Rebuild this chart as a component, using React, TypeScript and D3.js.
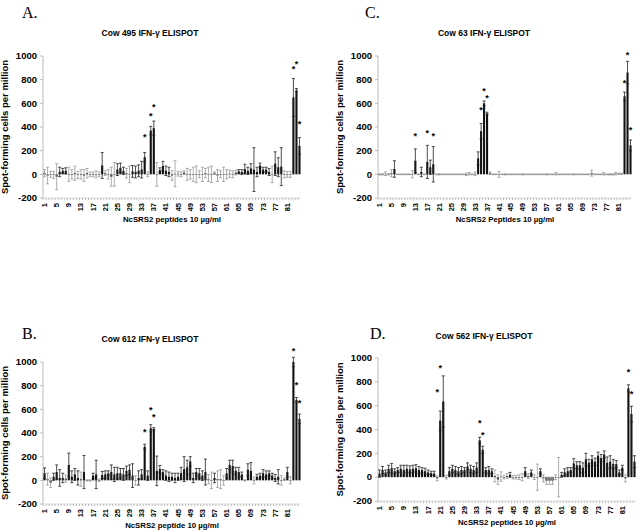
import React from "react";
import * as d3 from "d3";

// peptide index 1..85 (82 peptides + controls at the end)
const peptides = d3.range(1, 86);
const xTickLabels = ["1", "5", "9", "13", "17", "21", "25", "29", "33", "37", "41", "45", "49", "53", "57", "61", "65", "69", "73", "77", "81"];
const yTicks = [-200, 0, 200, 400, 600, 800, 1000];

// Cow 495
const cow495Mean = [
  10, -10, 0, -5, -20, 20, 30, 30, 0, 0,
  10, -5, 0, -10, 10, 0, 0, 0, 0, 75,
  10, 0, -20, 0, 40, 55, 30, 10, 0, 25,
  20, 30, 40, 145, 0, 370, 390, 0, 35, 70,
  30, 20, -10, 5, 5, 0, 15, 0, 0, 0,
  0, 0, 0, 10, 0, 0, 10, -10, 0, 0,
  0, 5, 0, 15, 25, 20, 45, 30, 50, 40,
  20, 75, 40, 40, 20, 0, 90, 60, 65, 0,
  0, 0, 650, 710, 240,
];
const cow495Err = [
  30, 70, 25, 30, 110, 40, 20, 25, 60, 40,
  60, 30, 40, 50, 40, 20, 20, 30, 20, 110,
  20, 40, 80, 100, 50, 40, 30, 40, 70, 50,
  50, 50, 70, 40, 20, 35, 60, 100, 20, 40,
  40, 40, 40, 110, 20, 20, 15, 50, 40, 60,
  70, 30, 60, 40, 60, 70, 10, 50, 30, 60,
  40, 30, 30, 20, 15, 20, 40, 30, 40, 185,
  40, 20, 20, 20, 30, 70, 100, 80, 160, 30,
  25, 25, 160, 15, 70,
];
const cow495Stars = [[34, 320], [36, 500], [37, 575], [83, 895], [84, 940], [85, 435]];

// Cow 612
const cow612Mean = [
  60, 10, -20, 30, 70, 20, 20, 15, 130, 30,
  50, 20, 10, 70, 0, 0, 40, 50, 0, 45,
  50, 60, 70, 50, 60, 60, 50, 80, 90, 40,
  0, 20, 50, 285, 40, 440, 435, 80, 95, 70,
  40, 30, 30, 20, 30, 60, 95, 110, 160, 20,
  70, 60, 40, 70, 10, 0, 20, 10, 10, 0,
  60, 130, 120, 80, 70, 50, 0, 90, 80, 0,
  30, 40, 60, 50, 60, 40, 20, 30, 0, 10,
  70, 0, 1000, 680, 520,
];
const cow612Err = [
  45, 50, 40, 30, 60, 70, 40, 30, 100, 50,
  50, 60, 60, 140, 5, 5, 20, 120, 10, 30,
  30, 20, 60, 60, 50, 40, 50, 40, 40, 100,
  40, 60, 40, 20, 40, 30, 10, 125, 30, 20,
  40, 40, 30, 40, 30, 50, 105, 60, 40, 40,
  30, 40, 40, 110, 40, 70, 40, 70, 80, 40,
  40, 40, 50, 30, 40, 20, 5, 50, 70, 30,
  20, 20, 30, 30, 20, 20, 30, 60, 40, 10,
  40, 30, 40, 20, 40,
];
const cow612Stars = [[34, 415], [36, 605], [37, 545], [83, 1100], [84, 815], [85, 660]];

// Cow 63
const cow63Mean = [
  0, 0, 5, 0, 10, 45, 0, 0, 0, 0,
  0, 0, 115, 0, 20, 0, 105, 60, 85, 0,
  0, 0, 0, 0, 0, 0, 0, 0, 0, 0,
  5, 0, 5, 135, 365, 600, 515, 10, 0, 0,
  0, 0, 0, 0, 0, 0, 0, 0, 0, 0,
  0, 0, 0, 0, 0, 0, 0, 0, 0, 5,
  0, 0, 0, 0, 0, 0, 0, 0, 0, 0,
  0, 10, 0, 0, 0, 5, 0, 0, 0, 5,
  5, 5, 660, 860, 245,
];
const cow63Err = [
  5, 5, 15, 5, 30, 70, 3, 3, 3, 3,
  3, 30, 100, 3, 40, 3, 140, 60, 150, 3,
  5, 3, 3, 3, 3, 3, 3, 3, 3, 10,
  10, 3, 15, 55, 65, 20, 10, 10, 3, 3,
  25, 3, 5, 3, 3, 3, 3, 3, 5, 3,
  3, 3, 3, 3, 3, 3, 5, 3, 3, 10,
  3, 3, 3, 3, 3, 5, 3, 3, 3, 3,
  3, 25, 3, 3, 3, 10, 3, 5, 5, 10,
  5, 5, 35, 95, 45,
];
const cow63Stars = [[13, 330], [17, 360], [19, 330], [35, 555], [36, 715], [37, 650], [83, 780], [84, 1015], [85, 380]];

// Cow 562
const cow562Mean = [
  30, 60, 40, 70, 75, 50, 60, 70, 60, 70,
  65, 70, 75, 60, 60, 50, 40, 35, 30, -10,
  475, 635, 0, 50, 70, 60, 50, 60, 60, 90,
  70, 60, 80, 310, 230, 60, 60, 50, 10, -20,
  5, 0, 10, 20, 0, 0, 0, 0, 50, 10,
  40, 0, 0, 50, -10, -30, -30, -30, 0, 0,
  20, 40, 50, 60, 115, 100, 100, 80, 150, 120,
  150, 130, 180, 160, 190, 120, 130, 110, 110, 40,
  80, -10, 745, 530, 130,
];
const cow562Err = [
  30, 30, 20, 30, 40, 20, 20, 30, 40, 30,
  30, 30, 30, 30, 20, 25, 20, 15, 20, 20,
  80, 215, 15, 30, 30, 30, 30, 30, 20, 30,
  30, 30, 40, 25, 30, 20, 30, 20, 50, 40,
  40, 15, 20, 20, 15, 15, 20, 30, 30, 20,
  20, 20, 110, 20, 30, 30, 30, 30, 20, 165,
  20, 30, 30, 20, 40, 30, 30, 40, 50, 30,
  30, 30, 30, 30, 30, 50, 50, 40, 30, 20,
  20, 30, 30, 65, 50,
];
const cow562Stars = [[20, 720], [21, 925], [34, 465], [35, 360], [83, 895], [84, 705]];

const panels = [
  { letter: "A.", title: "Cow 495 IFN-\u03b3 ELISPOT", xLabel: "NcSRS2 peptides 10 \u00b5g/ml",
    means: cow495Mean, errors: cow495Err, stars: cow495Stars,
    left: 43, top: 56, width: 258, height: 142, letterX: 22, letterY: 18, titleX: 150, titleY: 36 },
  { letter: "C.", title: "Cow 63 IFN-\u03b3 ELISPOT", xLabel: "NcSRS2 Peptides 10 \u00b5g/ml",
    means: cow63Mean, errors: cow63Err, stars: cow63Stars,
    left: 378, top: 56, width: 254, height: 142, letterX: 365, letterY: 18, titleX: 484, titleY: 36 },
  { letter: "B.", title: "Cow 612 IFN-\u03b3 ELISPOT", xLabel: "NcSRS2 peptide 10 \u00b5g/ml",
    means: cow612Mean, errors: cow612Err, stars: cow612Stars,
    left: 43, top: 362, width: 258, height: 142, letterX: 22, letterY: 339, titleX: 150, titleY: 342 },
  { letter: "D.", title: "Cow 562 IFN-\u03b3 ELISPOT", xLabel: "NcSRS2 peptides 10 \u00b5g/ml",
    means: cow562Mean, errors: cow562Err, stars: cow562Stars,
    left: 378, top: 358, width: 258, height: 143, letterX: 370, letterY: 339, titleX: 484, titleY: 339 },
];

const sans = "'Liberation Sans', Arial, sans-serif";
const serif = "'Liberation Serif', 'Times New Roman', serif";

function Panel({ p }) {
  const x = d3.scaleBand().domain(peptides).range([p.left, p.left + p.width]).paddingInner(0.3).paddingOuter(0.15);
  const y = d3.scaleLinear().domain([-200, 1000]).range([p.top + p.height, p.top]);
  const bottom = p.top + p.height;
  const bw = x.bandwidth();
  const step = x.step();
  const cx = (n) => x(n) + bw / 2;

  return (
    <g>
      <text x={p.letterX} y={p.letterY} fontFamily={serif} fontSize={16}>{p.letter}</text>
      <text x={p.titleX} y={p.titleY} textAnchor="middle" fontFamily={sans} fontWeight="bold" fontSize={8.5}>{p.title}</text>

      {/* y axis */}
      <line x1={p.left} x2={p.left} y1={p.top} y2={bottom} stroke="#bbb" />
      {yTicks.map((t) => (
        <g key={t}>
          <line x1={p.left - 3} x2={p.left} y1={y(t)} y2={y(t)} stroke="#bbb" />
          <text x={p.left - 6} y={y(t)} dy="0.35em" textAnchor="end" fontFamily={sans} fontWeight="bold" fontSize={9.5}>{t}</text>
        </g>
      ))}
      <text transform={`translate(${p.left - 35},${p.top + p.height / 2}) rotate(-90)`} textAnchor="middle"
        fontFamily={sans} fontWeight="bold" fontSize={9.5}>Spot-forming cells per million</text>

      {/* x axis at -200 */}
      <line x1={p.left} x2={p.left + p.width} y1={bottom} y2={bottom} stroke="#ddd" />
      {peptides.map((n) => (
        <line key={n} x1={x(n) - (step - bw) / 2} x2={x(n) - (step - bw) / 2} y1={bottom} y2={bottom + 2} stroke="#bbb" />
      ))}
      {xTickLabels.map((t) => (
        <text key={t} transform={`translate(${cx(+t) + 2.5},${bottom + 5}) rotate(-90)`} textAnchor="end"
          fontFamily={sans} fontWeight="bold" fontSize={7.5}>{t}</text>
      ))}
      <text x={p.left + p.width / 2} y={bottom + 24} textAnchor="middle" fontFamily={sans} fontWeight="bold" fontSize={7.8}>{p.xLabel}</text>

      {/* bars */}
      {peptides.map((n, i) => {
        const m = p.means[i];
        return (
          <rect key={n} x={x(n)} width={bw} y={Math.min(y(m), y(0))} height={Math.max(0.6, Math.abs(y(m) - y(0)))} fill="#111" />
        );
      })}

      {/* error bars */}
      {peptides.map((n, i) => {
        const m = p.means[i];
        const e = p.errors[i];
        const c = m > 15 ? "#222" : "#999";
        const xc = cx(n);
        return (
          <g key={n} stroke={c} strokeWidth={0.8}>
            <line x1={xc} x2={xc} y1={y(m + e)} y2={y(m - e)} />
            <line x1={xc - 1.5} x2={xc + 1.5} y1={y(m + e)} y2={y(m + e)} />
            <line x1={xc - 1.5} x2={xc + 1.5} y1={y(m - e)} y2={y(m - e)} />
          </g>
        );
      })}

      {/* significance */}
      {p.stars.map(([n, v]) => (
        <text key={n} x={cx(n)} y={y(v) + 4} textAnchor="middle" fontFamily={sans} fontWeight="bold" fontSize={9}>*</text>
      ))}
    </g>
  );
}

export default function App() {
  return (
    <svg width={640} height={532} style={{ display: "block", position: "absolute", left: 0, top: 0 }}>
      <rect width={640} height={532} fill="#fff" />
      {panels.map((p) => (
        <Panel key={p.letter} p={p} />
      ))}
    </svg>
  );
}
